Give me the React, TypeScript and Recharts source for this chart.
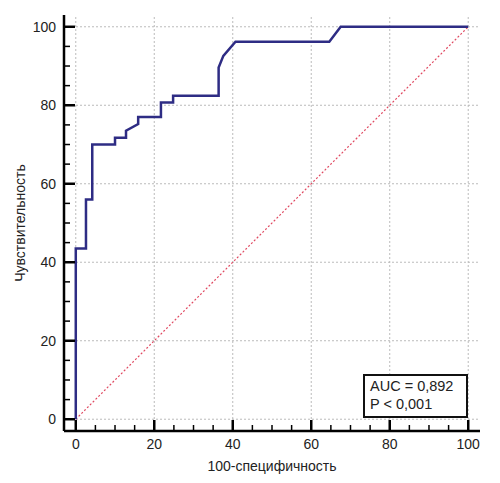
import { LineChart, Line, XAxis, YAxis, ReferenceLine } from 'recharts';

// ROC curve points (100-specificity, sensitivity)
const rocFpr = [0, 0, 2.6, 2.6, 4.2, 4.2, 10, 10, 12.8, 12.8, 15.9, 15.9, 21.7, 21.7, 24.8, 24.8, 36.4, 36.4, 37.6, 40.7, 64.6, 67.5, 100];
const rocTpr = [0, 43.5, 43.5, 56, 56, 70, 70, 71.7, 71.7, 73.5, 75.2, 77, 77, 80.7, 80.7, 82.4, 82.4, 89.6, 92.6, 96.2, 96.2, 100, 100];

// chance diagonal
const diagFpr = [0, 100];
const diagTpr = [0, 100];

const axisTicks = [0, 5, 10, 15, 20, 25, 30, 35, 40, 45, 50, 55, 60, 65, 70, 75, 80, 85, 90, 95, 100];
const gridValues = [0, 20, 40, 60, 80, 100];

const xTitle = '100-специфичность';
const yTitle = 'Чувствительность';
const aucLine = 'AUC = 0,892';
const pLine = 'P < 0,001';

const rocData = rocFpr.map((x, i) => ({ x, y: rocTpr[i] }));
const diagData = diagFpr.map((x, i) => ({ x, y: diagTpr[i] }));

const FONT = '"Liberation Sans", Arial, sans-serif';

function YTick(props: any) {
  const { x, y, payload } = props;
  const major = payload.value % 20 === 0;
  const ax = x + 8;
  return (
    <g>
      <line x1={ax} x2={ax + (major ? 11 : 6)} y1={y} y2={y} stroke="#000" strokeWidth={major ? 2.5 : 1.5} />
      {major && (
        <text x={x} y={y} dy="0.35em" textAnchor="end" fontSize={14} fontFamily={FONT} fill="#222">
          {payload.value}
        </text>
      )}
    </g>
  );
}

function XTick(props: any) {
  const { x, y, payload } = props;
  const major = payload.value % 20 === 0;
  const ay = y - 8;
  return (
    <g>
      <line x1={x} x2={x} y1={ay} y2={ay - (major ? 11 : 6)} stroke="#000" strokeWidth={major ? 2.5 : 1.5} />
      {major && (
        <text x={x} y={y} dy="0.72em" textAnchor="middle" fontSize={14} fontFamily={FONT} fill="#222">
          {payload.value}
        </text>
      )}
    </g>
  );
}

function YTitle(props: any) {
  const vb = props.viewBox;
  const cx = vb.x + 20;
  const cy = vb.y + vb.height / 2;
  return (
    <text x={cx} y={cy} dy="0.35em" textAnchor="middle" transform={`rotate(-90 ${cx} ${cy})`}
      fontSize={14} fontFamily={FONT} fill="#222">
      {yTitle}
    </text>
  );
}

function XTitle(props: any) {
  const vb = props.viewBox;
  return (
    <text x={vb.x + vb.width / 2} y={vb.y + 40} textAnchor="middle" fontSize={14} fontFamily={FONT} fill="#222">
      {xTitle}
    </text>
  );
}

export default function App() {
  return (
    <div style={{ position: 'absolute', left: 0, top: 0, width: 500, height: 483, background: '#fff' }}>
      <LineChart width={500} height={483} margin={{ top: 15, right: 20, left: 0, bottom: 0 }}>
        {gridValues.map((v) => (
          <ReferenceLine key={'gx' + v} x={v} stroke="#bbb" strokeDasharray="2 2" ifOverflow="extendDomain" />
        ))}
        {gridValues.map((v) => (
          <ReferenceLine key={'gy' + v} y={v} stroke="#bbb" strokeDasharray="2 2" ifOverflow="extendDomain" />
        ))}
        <XAxis
          type="number"
          dataKey="x"
          domain={[-3, 103]}
          allowDataOverflow
          ticks={axisTicks}
          interval={0}
          height={52}
          tickLine={false}
          axisLine={{ stroke: '#000', strokeWidth: 2.5 }}
          tick={<XTick />}
          label={(p: any) => <XTitle {...p} />}
        />
        <YAxis
          type="number"
          dataKey="y"
          domain={[-3, 103]}
          allowDataOverflow
          ticks={axisTicks}
          interval={0}
          width={64}
          tickLine={false}
          axisLine={{ stroke: '#000', strokeWidth: 2.5 }}
          tick={<YTick />}
          label={(p: any) => <YTitle {...p} />}
        />
        <Line
          data={diagData}
          dataKey="y"
          type="linear"
          stroke="#e04a62"
          strokeWidth={1.2}
          strokeDasharray="2 2"
          dot={false}
          activeDot={false}
          isAnimationActive={false}
        />
        <Line
          data={rocData}
          dataKey="y"
          type="linear"
          stroke="#2e2c84"
          strokeWidth={2.5}
          dot={false}
          activeDot={false}
          isAnimationActive={false}
        />
      </LineChart>
      <div
        style={{
          position: 'absolute',
          left: 363,
          top: 374,
          width: 105,
          height: 44,
          boxSizing: 'border-box',
          border: '2px solid #111',
          background: '#fff',
          padding: '1px 0 0 5px',
          fontFamily: FONT,
          fontSize: 14.5,
          lineHeight: '18px',
          color: '#222',
        }}
      >
        <div>{aucLine}</div>
        <div>{pLine}</div>
      </div>
    </div>
  );
}
